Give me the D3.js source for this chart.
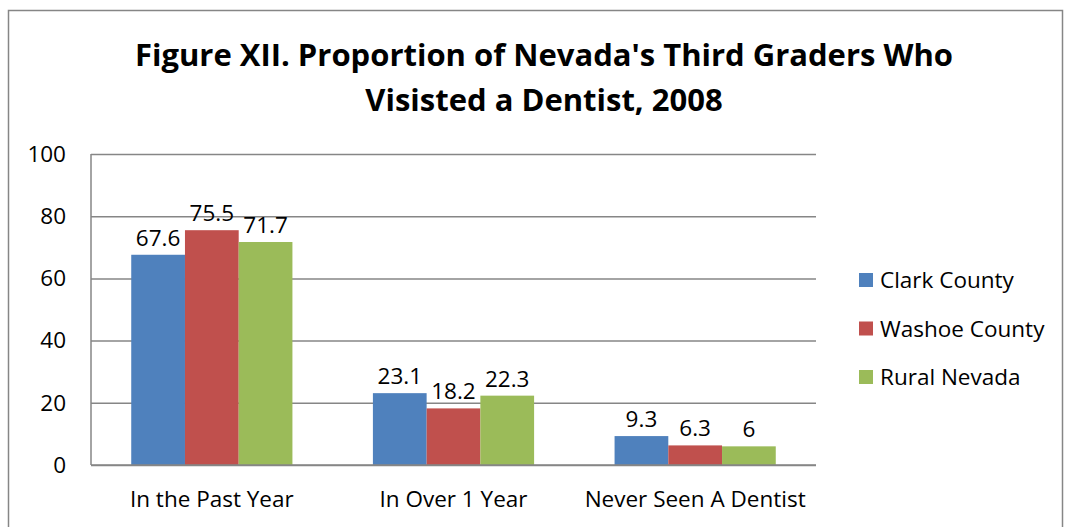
<!DOCTYPE html>
<html>
<head>
<meta charset="utf-8">
<script src="https://cdn.jsdelivr.net/npm/d3@7"></script>
<style>
  body { margin: 0; background: #fff; }
  svg text { font-family: 'Open Sans', sans-serif; fill: #000; }
</style>
</head>
<body>
<div class="chart"></div>
<script>
const categories = ['In the Past Year', 'In Over 1 Year', 'Never Seen A Dentist']
const seriesNames = ['Clark County', 'Washoe County', 'Rural Nevada']
const clark = [67.6, 23.1, 9.3]
const washoe = [75.5, 18.2, 6.3]
const rural = [71.7, 22.3, 6]
const yTicks = [0, 20, 40, 60, 80, 100]
const COLORS = ['#4f81bd', '#c0504d', '#9bbb59']

const seriesValues = [clark, washoe, rural]
const data = categories.map((c, i) => ({
  category: c,
  values: seriesNames.map((s, j) => ({ series: s, value: seriesValues[j][i] }))
}))

const W = 1067
const H = 527
const FONT_SIZE = 22.5
const plot = { left: 91, right: 816, top: 154, bottom: 465 }

const svg = d3.select('.chart').append('svg')
  .attr('width', W)
  .attr('height', H)

// outer frame
svg.append('path')
  .attr('d', 'M8.5,' + H + 'V10.5H1062.5V' + H)
  .attr('fill', 'none')
  .attr('stroke', '#868686')
  .attr('stroke-width', 1.5)

// title
const title = svg.append('text')
  .attr('text-anchor', 'middle')
  .attr('font-weight', 'bold')
  .attr('font-size', 31)
title.append('tspan').attr('x', 544).attr('y', 66).text("Figure XII. Proportion of Nevada's Third Graders Who")
title.append('tspan').attr('x', 544).attr('y', 111).text('Visisted a Dentist, 2008')

const x0 = d3.scaleBand()
  .domain(categories)
  .range([plot.left, plot.right])

const innerPad = x0.bandwidth() * 0.1665
const x1 = d3.scaleBand()
  .domain(seriesNames)
  .range([innerPad, x0.bandwidth() - innerPad])

const y = d3.scaleLinear()
  .domain([0, 100])
  .range([plot.bottom, plot.top])

const color = d3.scaleOrdinal().domain(seriesNames).range(COLORS)

// gridlines + y axis
const yAxis = d3.axisLeft(y)
  .tickValues(yTicks)
  .tickSize(-(plot.right - plot.left))
  .tickPadding(25)

const gy = svg.append('g')
  .attr('transform', 'translate(' + plot.left + ',0)')
  .call(yAxis)
gy.select('.domain').remove()
gy.selectAll('.tick line').attr('stroke', '#868686').attr('stroke-width', 1.5)
gy.selectAll('.tick text')
  .attr('font-size', FONT_SIZE)
  .attr('font-family', "'Open Sans', sans-serif")
  .attr('fill', '#000')

// left axis line
svg.append('line')
  .attr('x1', plot.left).attr('x2', plot.left)
  .attr('y1', plot.top).attr('y2', plot.bottom)
  .attr('stroke', '#868686').attr('stroke-width', 1.5)

// bars
const groups = svg.append('g').selectAll('g')
  .data(data)
  .join('g')
  .attr('transform', d => 'translate(' + x0(d.category) + ',0)')

groups.selectAll('rect')
  .data(d => d.values)
  .join('rect')
  .attr('x', d => x1(d.series))
  .attr('width', x1.bandwidth())
  .attr('y', d => y(d.value))
  .attr('height', d => y(0) - y(d.value))
  .attr('fill', d => color(d.series))

groups.selectAll('text.label')
  .data(d => d.values)
  .join('text')
  .attr('class', 'label')
  .attr('x', d => x1(d.series) + x1.bandwidth() / 2)
  .attr('y', d => y(d.value) - 9)
  .attr('text-anchor', 'middle')
  .attr('font-size', FONT_SIZE)
  .text(d => d.value)

// baseline
svg.append('line')
  .attr('x1', plot.left).attr('x2', plot.right)
  .attr('y1', plot.bottom).attr('y2', plot.bottom)
  .attr('stroke', '#868686').attr('stroke-width', 1.5)

// category labels
svg.append('g').selectAll('text')
  .data(categories)
  .join('text')
  .attr('x', d => x0(d) + x0.bandwidth() / 2)
  .attr('y', 507)
  .attr('text-anchor', 'middle')
  .attr('font-size', FONT_SIZE)
  .text(d => d)

// legend
const legend = svg.append('g').selectAll('g')
  .data(seriesNames)
  .join('g')
  .attr('transform', (d, i) => 'translate(859,' + (280 + i * 48.5) + ')')

legend.append('rect')
  .attr('x', 0).attr('y', -7)
  .attr('width', 14).attr('height', 14)
  .attr('fill', d => color(d))

legend.append('text')
  .attr('x', 21)
  .attr('y', 8)
  .attr('font-size', FONT_SIZE)
  .text(d => d)
</script>
</body>
</html>
